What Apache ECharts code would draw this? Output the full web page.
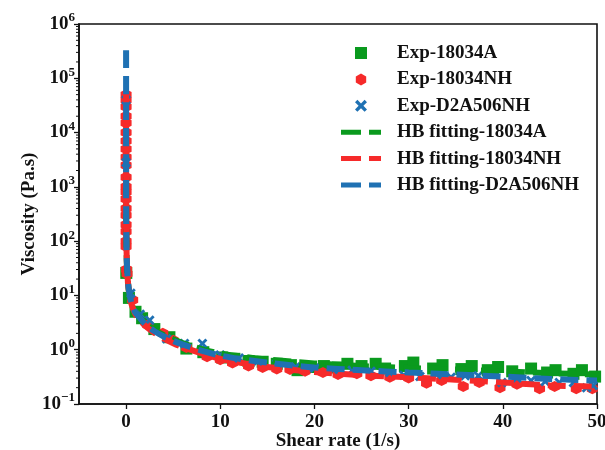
<!DOCTYPE html>
<html>
<head>
<meta charset="utf-8">
<script src="https://cdn.jsdelivr.net/npm/echarts@6/dist/echarts.min.js"></script>
<style>html,body{margin:0;padding:0;background:#fff}#c{width:605px;height:450px}</style>
</head>
<body>
<div id="c"></div>
<script>
// ---- data ----
const seriesNames = ['Exp-18034A', 'Exp-18034NH', 'Exp-D2A506NH',
  'HB fitting-18034A', 'HB fitting-18034NH', 'HB fitting-D2A506NH'];
const xTickValues = [0, 10, 20, 30, 40, 50];
const yMinorTickValues = [];
// minor tick values (2..9 x 10^n), typed per decade
const minorMultipliers = [2, 3, 4, 5, 6, 7, 8, 9];
const decades = [0.1, 1, 10, 100, 1000, 10000, 100000];

// Experimental 18034A (shear rate, viscosity)
const expA_x = [0.02, 0.3, 1.0, 1.7, 3.0, 4.6, 6.4, 8.2, 10.2, 11.5, 13.0, 14.5, 16.0, 17.5, 18.2, 19.5, 21.0, 22.5, 23.5, 25.0, 26.5, 27.5, 29.6, 30.5, 32.6, 33.6, 35.6, 36.7, 38.4, 39.5, 41.0, 43.0, 44.7, 45.6, 47.5, 48.4, 49.8];
const expA_y = [26, 9, 5, 3.8, 2.4, 1.7, 1.05, 0.9, 0.72, 0.68, 0.62, 0.6, 0.55, 0.52, 0.42, 0.48, 0.5, 0.47, 0.55, 0.5, 0.55, 0.45, 0.5, 0.58, 0.45, 0.52, 0.44, 0.5, 0.42, 0.48, 0.4, 0.45, 0.38, 0.42, 0.36, 0.42, 0.32];

// Experimental 18034NH
const expNH_x = [0, 0, 0, 0, 0, 0, 0, 0, 0, 0, 0, 0, 0, 0, 0, 0, 0, 0, 0, 0, 0.05, 0.1, 0.7, 2.3, 3.9, 5.0, 6.4, 8.6, 10.0, 11.3, 13.0, 14.5, 16.0, 17.4, 19.0, 20.9, 22.5, 24.5, 26.0, 28.0, 30.0, 31.9, 33.5, 35.8, 37.5, 39.7, 41.5, 43.9, 45.5, 47.8, 49.5];
const expNH_y = [50000, 40000, 30000, 20000, 15000, 10000, 7000, 5000, 3500, 2500, 1500, 1000, 800, 600, 400, 300, 200, 150, 100, 80, 30, 25, 8.2, 2.85, 2.0, 1.5, 1.1, 0.74, 0.65, 0.57, 0.5, 0.47, 0.44, 0.43, 0.4, 0.38, 0.35, 0.36, 0.33, 0.31, 0.3, 0.24, 0.27, 0.21, 0.25, 0.2, 0.23, 0.19, 0.21, 0.19, 0.19];

// Experimental D2A506NH
const expD_x = [0, 0, 0.5, 1.5, 2.5, 4.3, 6.2, 8.1, 10.0, 12.0, 14.0, 16.0, 18.0, 20.0, 22.0, 24.0, 26.0, 28.0, 29.5, 31.2, 33.0, 34.5, 36.0, 37.4, 39.9, 41.5, 43.0, 44.5, 46.0, 47.5, 48.9, 49.6];
const expD_y = [40000, 2800, 11, 4.5, 3.5, 1.6, 1.3, 1.3, 0.8, 0.7, 0.62, 0.55, 0.48, 0.46, 0.43, 0.42, 0.4, 0.38, 0.34, 0.32, 0.35, 0.31, 0.33, 0.33, 0.25, 0.3, 0.27, 0.26, 0.25, 0.25, 0.2, 0.22];

// HB fitting curves
const fitA_x = [0.002, 0.01, 0.05, 0.1, 0.2, 0.35, 0.6, 1, 1.5, 2, 3, 4, 5, 6, 8, 10, 12, 15, 20, 25, 30, 35, 40, 45, 50];
const fitA_y = [1500, 300, 62, 32, 17, 10.5, 6.8, 4.8, 3.8, 3.1, 2.3, 1.85, 1.55, 1.33, 1.03, 0.85, 0.76, 0.66, 0.56, 0.50, 0.46, 0.43, 0.40, 0.37, 0.35];

const fitNH_x = [0.00006, 0.0001, 0.001, 0.01, 0.05, 0.1, 0.2, 0.35, 0.6, 1, 1.5, 2, 3, 4, 5, 6, 8, 10, 12, 15, 20, 25, 30, 35, 40, 45, 50];
const fitNH_y = [56000, 33000, 3300, 330, 66, 34, 17.5, 10.5, 6.7, 4.5, 3.5, 2.8, 2.05, 1.6, 1.32, 1.12, 0.86, 0.68, 0.58, 0.48, 0.39, 0.34, 0.31, 0.28, 0.25, 0.22, 0.21];

const fitD_x = [0.00001, 0.0001, 0.001, 0.01, 0.05, 0.1, 0.2, 0.35, 0.6, 1, 1.5, 2, 3, 4, 5, 6, 8, 10, 12, 15, 20, 25, 30, 35, 40, 45, 50];
const fitD_y = [330000, 33000, 3300, 330, 68, 35, 18, 11, 7, 4.8, 3.8, 3.0, 2.2, 1.75, 1.45, 1.25, 0.96, 0.78, 0.68, 0.58, 0.47, 0.42, 0.38, 0.35, 0.32, 0.29, 0.27];

// ---- build ----
decades.forEach(d => minorMultipliers.forEach(m => yMinorTickValues.push(+(d * m).toPrecision(3))));
const zip = (xs, ys) => xs.map((x, i) => [x, ys[i]]);

const FONT = 'Liberation Serif';
const GREEN = '#0A9A1E', RED = '#F62A2A', BLUE = '#1F71B3';
const SQUARE = 'path://M0,0 L10,0 L10,10 L0,10 Z';
const HEX = 'path://M5,0 L9.33,2.5 L9.33,7.5 L5,10 L0.67,7.5 L0.67,2.5 Z';
const XMARK = 'path://M0,2 L2,0 L5,3 L8,0 L10,2 L7,5 L10,8 L8,10 L5,7 L2,10 L0,8 L3,5 Z';
const DASH_ICON = 'path://M0,0 L20,0 L20,5 L0,5 Z M28,0 L40,0 L40,5 L28,5 Z';
const X_MIN = -5;

const chart = echarts.init(document.getElementById('c'));
const dashStyle = (c) => ({ color: c, width: 6, type: [18, 8], cap: 'butt', opacity: 1 });

chart.setOption({
  animation: false,
  grid: { left: 79, right: 8, top: 24, bottom: 46, containLabel: false, outerBoundsMode: 'none', show: true, borderColor: '#111', borderWidth: 1.6, backgroundColor: 'transparent' },
  legend: {
    data: [
      { name: seriesNames[0], icon: SQUARE },
      { name: seriesNames[1], icon: HEX },
      { name: seriesNames[2], icon: XMARK },
      { name: seriesNames[3], icon: DASH_ICON },
      { name: seriesNames[4], icon: DASH_ICON },
      { name: seriesNames[5], icon: DASH_ICON }
    ],
    orient: 'vertical',
    left: 336, top: 38.5,
    itemWidth: 40, itemHeight: 12, itemGap: 7.4,
    symbolKeepAspect: true,
    textStyle: { fontFamily: FONT, fontWeight: 'bold', fontSize: 19, color: '#111', padding: [0, 0, 0, 11], lineHeight: 19 }
  },
  xAxis: {
    type: 'value', min: X_MIN, max: 50,
    name: 'Shear rate (1/s)', nameLocation: 'middle', nameGap: 28, nameMoveOverlap: false,
    nameTextStyle: { fontFamily: FONT, fontWeight: 'bold', fontSize: 19, color: '#111' },
    axisLine: { show: true, onZero: false, lineStyle: { color: '#111', width: 1.6 } },
    axisTick: { show: true, length: 5, customValues: xTickValues, lineStyle: { color: '#111', width: 1.3 } },
    axisLabel: { customValues: xTickValues, margin: 9, fontFamily: FONT, fontWeight: 'bold', fontSize: 19, color: '#111' },
    splitLine: { show: false }
  },
  yAxis: {
    type: 'log', logBase: 10, min: 0.1, max: 1000000, interval: 1,
    name: 'Viscosity (Pa.s)', nameLocation: 'middle', nameGap: 40, nameMoveOverlap: false,
    nameTextStyle: { fontFamily: FONT, fontWeight: 'bold', fontSize: 19, color: '#111' },
    axisLine: { show: true, onZero: false, lineStyle: { color: '#111', width: 1.6 } },
    axisTick: { show: true, length: 5, lineStyle: { color: '#111', width: 1.3 } },
    axisLabel: {
      margin: 4,
      formatter: (v) => {
        const e = Math.round(Math.log10(v));
        return '{b|10}{s|' + (e < 0 ? '\u2212' + (-e) : e) + '}';
      },
      rich: {
        b: { fontFamily: FONT, fontWeight: 'bold', fontSize: 19, color: '#111' },
        s: { fontFamily: FONT, fontWeight: 'bold', fontSize: 13, color: '#111', padding: [0, 0, 12, 0] }
      }
    },
    splitLine: { show: false }
  },
  series: [
    { name: seriesNames[0], type: 'scatter', symbol: 'rect', symbolSize: 12, itemStyle: { color: GREEN, opacity: 1 }, data: zip(expA_x, expA_y), z: 2 },
    { name: seriesNames[1], type: 'scatter', symbol: HEX, symbolSize: 11, itemStyle: { color: RED, opacity: 1 }, data: zip(expNH_x, expNH_y), z: 2 },
    { name: seriesNames[2], type: 'scatter', symbol: XMARK, symbolSize: 10, itemStyle: { color: BLUE, opacity: 1 }, data: zip(expD_x, expD_y), z: 2 },
    { name: seriesNames[3], type: 'line', smooth: 0.3, symbol: 'none', showSymbol: false, lineStyle: dashStyle(GREEN), itemStyle: { color: GREEN }, data: zip(fitA_x, fitA_y), z: 3 },
    { name: seriesNames[4], type: 'line', smooth: 0.3, symbol: 'none', showSymbol: false, lineStyle: dashStyle(RED), itemStyle: { color: RED }, data: zip(fitNH_x, fitNH_y), z: 3 },
    { name: seriesNames[5], type: 'line', smooth: 0.3, symbol: 'none', showSymbol: false, lineStyle: dashStyle(BLUE), itemStyle: { color: BLUE }, data: zip(fitD_x, fitD_y), z: 3 },
    {
      name: 'minorTicks', type: 'custom', silent: true, clip: false, z: 5,
      data: yMinorTickValues.map(v => [X_MIN, v]),
      renderItem: (params, api) => {
        const p = api.coord([api.value(0), api.value(1)]);
        return { type: 'line', shape: { x1: p[0] - 3, y1: p[1], x2: p[0], y2: p[1] }, style: { stroke: '#111', lineWidth: 1 } };
      }
    }
  ]
});
</script>
</body>
</html>
